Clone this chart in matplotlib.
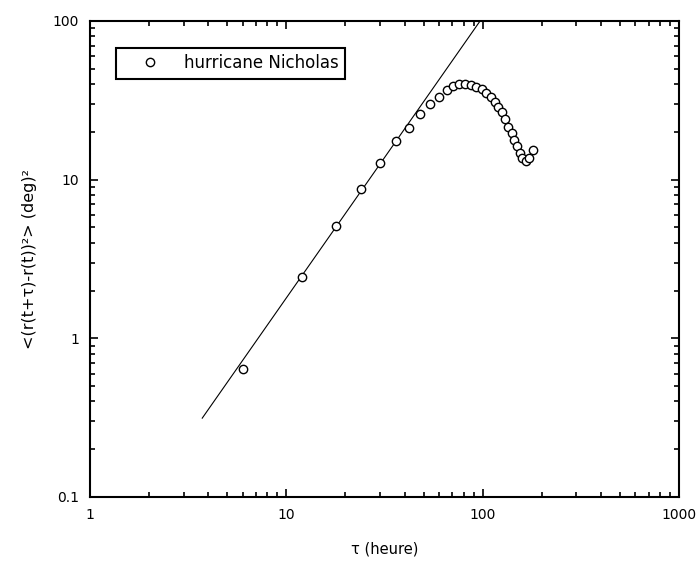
import matplotlib
matplotlib.use("Agg")
import matplotlib.pyplot as plt
from matplotlib.ticker import LogLocator, FixedFormatter, FixedLocator, NullFormatter

# lag tau (hours) and mean squared displacement (deg^2)
tau = [6, 12, 18, 24, 30, 36, 42, 48, 54, 60,
       66, 71, 76, 81, 87, 93, 99, 104, 110, 116, 120,
       125, 130, 135, 141, 144, 149, 155, 159, 166, 172, 181]
msd = [0.64, 2.42, 5.14, 8.77, 12.8, 17.6, 21.2, 26.0, 30.1, 33.3,
       36.8, 39.2, 40.2, 40.2, 39.6, 38.6, 37.2, 35.4, 33.4, 31.0, 28.9,
       26.5, 24.1, 21.6, 19.6, 17.8, 16.2, 14.7, 13.7, 13.1, 13.7, 15.4]

# power-law fit line endpoints
fit_tau = [3.73, 97]
fit_msd = [0.314, 100]

xticks = [1, 10, 100, 1000]
xticklabels = ["1", "10", "100", "1000"]
yticks = [0.1, 1, 10, 100]
yticklabels = ["0.1", "1", "10", "100"]

plt.rcParams["font.family"] = ["DejaVu Sans"]

fig = plt.figure(figsize=(6.96, 5.61), dpi=100)
ax = fig.add_axes([0.1293, 0.1141, 0.8463, 0.8485])

ax.plot(fit_tau, fit_msd, color="black", lw=0.8)
ax.plot(tau, msd, linestyle="none", marker="o", markersize=6,
        markerfacecolor="white", markeredgecolor="black", markeredgewidth=1.0,
        label="hurricane Nicholas")

ax.set_xscale("log")
ax.set_yscale("log")
ax.set_xlim(1, 1000)
ax.set_ylim(0.1, 100)

ax.xaxis.set_major_locator(FixedLocator(xticks))
ax.xaxis.set_major_formatter(FixedFormatter(xticklabels))
ax.yaxis.set_major_locator(FixedLocator(yticks))
ax.yaxis.set_major_formatter(FixedFormatter(yticklabels))
ax.xaxis.set_minor_locator(LogLocator(base=10, subs=range(2, 10)))
ax.yaxis.set_minor_locator(LogLocator(base=10, subs=range(2, 10)))
ax.xaxis.set_minor_formatter(NullFormatter())
ax.yaxis.set_minor_formatter(NullFormatter())

ax.tick_params(which="both", direction="in", top=True, right=True,
               labelsize=10, width=1.2)
ax.tick_params(which="major", length=6, pad=8)
ax.tick_params(which="minor", length=3.5)
for s in ax.spines.values():
    s.set_linewidth(1.5)

ax.set_xlabel("τ (heure)", fontsize=10.5, labelpad=14)
ax.set_ylabel("<(r(t+τ)-r(t))²> (deg)²", fontsize=11.5, labelpad=11)

leg = ax.legend(loc="upper left", bbox_to_anchor=(0.0436, 0.944),
                borderaxespad=0, fancybox=False, framealpha=1,
                edgecolor="black", fontsize=12, handletextpad=0.4,
                borderpad=0.4, handlelength=3.3)
leg.get_frame().set_linewidth(1.5)

fig.savefig("out.png", dpi=100)
